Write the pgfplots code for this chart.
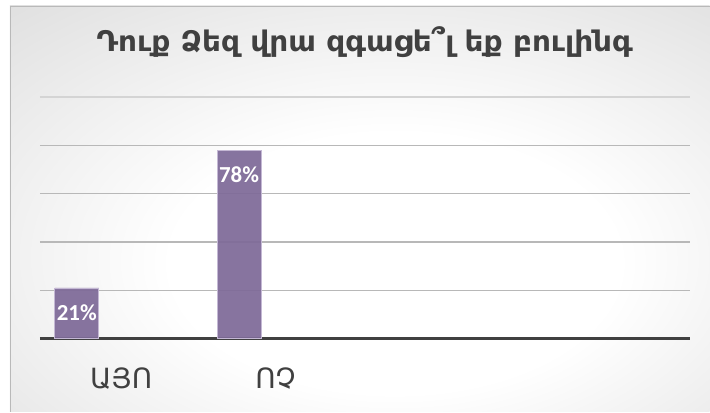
\documentclass[border=0pt]{standalone}
\usepackage{fontspec}
\usepackage{pgfplots}
\pgfplotsset{compat=1.18}
\setmainfont{DejaVu Sans}
\newfontfamily\armfont{DejaVu Sans}
\newfontfamily\calibrib{Carlito}[UprightFont={* Bold}]
\definecolor{barpurple}{HTML}{7E6A98}
\definecolor{barborder}{HTML}{C4B8D4}
\definecolor{textgray}{HTML}{404040}
\definecolor{gridgray}{HTML}{B8B8B8}
\definecolor{bgout}{HTML}{C4C4C4}
\definecolor{bgmid}{HTML}{D6D6D6}
\pgfdeclareradialshading{chartbg}{\pgfpoint{3bp}{-8bp}}{color(0bp)=(white); color(16bp)=(white); color(48bp)=(bgmid); color(70bp)=(bgout); color(100bp)=(bgout)}
\begin{document}
\begin{tikzpicture}
\path[fill=white] (0,0) rectangle (710bp,412bp);
\shade[shading=chartbg] (10bp,0bp) rectangle (710bp,406bp);
\draw[color=gray!55, line width=1bp] (10.5bp,0bp) -- (10.5bp,405.5bp) -- (710bp,405.5bp);
\node[anchor=base, text=textgray, xscale=1.04, font=\armfont\bfseries\fontsize{28.5}{32}\selectfont] at (365bp,360bp) {Դուք Ձեզ վրա զգացե՞լ եք բուլինգ};
\begin{axis}[
  at={(40bp,73bp)}, anchor=south west,
  width=650bp, height=242bp, scale only axis,
  xmin=0, xmax=4, ymin=0, ymax=100,
  axis x line*=bottom, axis y line*=left,
  x axis line style={color=textgray, line width=2.6bp, -},
  y axis line style={draw=none},
  xtick={0.5,1.45}, xticklabels={ԱՅՈ,ՈՉ},
  ytick={20,40,60,80}, yticklabels={},
  extra y ticks={100}, extra y tick labels={},
  extra y tick style={grid style={color=gridgray!60, line width=1.2bp}},
  major tick length=0pt,
  ymajorgrids, grid style={color=gridgray, line width=1.2bp},
  xticklabel style={font=\armfont\fontsize{28}{30}\selectfont, text=textgray, anchor=base, yshift=-50bp},
  clip=false,
]
\addplot[ybar, bar width=44bp, fill=barpurple, draw=barborder, line width=0.8bp, fill opacity=0.93,
  nodes near coords={\pgfmathprintnumber[assume math mode=true]{\pgfplotspointmeta}\%},
  every node near coord/.append style={text=white, text opacity=1, anchor=north, inner sep=0pt, yshift=-16bp, font=\calibrib\fontsize{23}{25}\selectfont}]
  coordinates {(0.227,21) (1.226,78)};
\end{axis}
\end{tikzpicture}
\end{document}
